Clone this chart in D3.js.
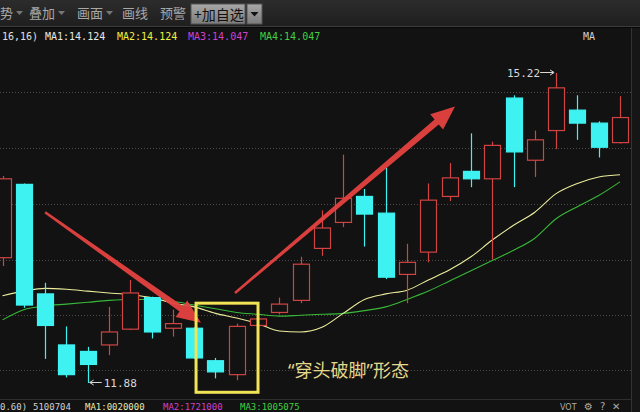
<!DOCTYPE html>
<html><head><meta charset="utf-8">
<script src="https://cdn.jsdelivr.net/npm/d3@7"></script>
<style>
html,body{margin:0;padding:0;background:#121212;overflow:hidden;}
svg{display:block;}
</style></head>
<body>
<svg id="c" width="640" height="412"></svg>
<script>
// ---- data ----
const opens  = [13.23,14.02,12.84,12.29,12.22,12.29,12.46,12.80,12.47,12.47,12.12,11.97,12.50,12.64,12.77,13.33,13.61,13.89,13.71,13.05,13.29,13.89,14.16,14.08,14.95,14.28,14.60,14.82,14.68,14.47];
const highs  = [14.11,14.03,12.96,12.49,12.27,12.70,12.99,12.81,12.67,12.48,12.15,12.52,12.59,12.80,13.24,13.74,14.34,13.97,14.20,13.38,14.03,14.25,14.57,14.48,14.98,14.60,15.22,14.98,14.70,14.97];
const lows   = [13.14,12.69,12.14,11.94,11.88,12.18,12.45,12.36,12.38,12.14,11.93,11.91,12.48,12.62,12.74,13.25,13.56,13.35,13.00,12.74,13.18,13.84,13.99,13.21,13.99,14.10,14.40,14.50,14.31,14.46];
const closes = [14.08,12.72,12.50,11.97,12.08,12.43,12.85,12.43,12.52,12.15,12.00,12.49,12.57,12.73,13.16,13.55,13.87,13.70,13.02,13.18,13.85,14.09,14.08,14.44,14.37,14.50,15.06,14.68,14.42,14.74];
const maYellow = [12.82,12.87,12.90,12.89,12.87,12.85,12.83,12.80,12.74,12.70,12.63,12.58,12.52,12.44,12.43,12.48,12.63,12.78,12.84,12.88,12.99,13.10,13.24,13.42,13.58,13.72,13.92,14.03,14.10,14.124];
const maGreen  = [12.56,12.67,12.71,12.73,12.75,12.77,12.78,12.78,12.76,12.72,12.68,12.64,12.62,12.60,12.61,12.62,12.63,12.66,12.70,12.78,12.87,12.98,13.09,13.20,13.31,13.44,13.65,13.78,13.90,14.047];
const gridPrices = [12.02,12.61,13.21,13.81,14.41,15.01];
const maLabels = [
  {t:"16,16)", c:"#e0e0e0"},
  {t:"MA1:14.124", c:"#e8e8e8"},
  {t:"MA2:14.124", c:"#f0f040"},
  {t:"MA3:14.047", c:"#d040d0"},
  {t:"MA4:14.047", c:"#40d040"}
];
const volLabels = [
  {t:"0.60)", c:"#d0d0d0"},
  {t:"5100704", c:"#d0d0d0"},
  {t:"MA1:0020000", c:"#e8e8b0"},
  {t:"MA2:1721000", c:"#d040d0"},
  {t:"MA3:1005075", c:"#40d040"}
];
const menuItems = ["势","叠加","画面","画线","预警"];
const menuArrows = [true,true,true,false,false];
const highLabel = "15.22";
const lowLabel = "11.88";
const patternText = "“穿头破脚”形态";
// annotations in data coordinates (candle index, price)
const arrowDown = {from:[2.0,13.72], to:[9.32,12.53]};
const arrowUp   = {from:[10.92,12.85], to:[21.25,14.86]};
const boxRange  = {i0:9.09, i1:12.0, p0:12.74, p1:11.78};

const svg = d3.select("#c");
const W = 640, H = 412;
const n = opens.length;
const x = d3.scaleLinear().domain([0, n-1]).range([2.5, 620]);
const y = d3.scaleLinear().domain([11.88, 15.22]).range([383, 73]);
const RED = "#d04444", CYAN = "#3ff2f2";

// backgrounds
svg.append("rect").attr("width",W).attr("height",H).attr("fill","#121212");
const tb = svg.append("defs").append("linearGradient").attr("id","tbg").attr("x1",0).attr("x2",0).attr("y1",0).attr("y2",1);
tb.append("stop").attr("offset","0").attr("stop-color","#2c2c2c");
tb.append("stop").attr("offset","1").attr("stop-color","#1f1f1f");
svg.append("rect").attr("width",W).attr("height",26).attr("fill","url(#tbg)");
svg.append("line").attr("x1",0).attr("x2",W).attr("y1",26.5).attr("y2",26.5).attr("stroke","#3c3c3c");
svg.append("line").attr("x1",0).attr("x2",W).attr("y1",27.5).attr("y2",27.5).attr("stroke","#080808");
svg.append("rect").attr("x",632).attr("y",28).attr("width",8).attr("height",H-28).attr("fill","#161616");
svg.append("line").attr("x1",631.5).attr("x2",631.5).attr("y1",28).attr("y2",H).attr("stroke","#333");

// toolbar menu
const menuX = [0, 29, 77, 122, 160];
const mg = svg.append("g").attr("font-family","'Noto Sans CJK SC'").attr("font-size",13).attr("fill","#a8a8a8");
menuItems.forEach((m,i)=>{
  mg.append("text").attr("x",menuX[i]).attr("y",18).text(m);
  if(menuArrows[i]){
    const ax = menuX[i] + m.length*13 + 3;
    mg.append("path").attr("d",`M${ax},11 L${ax+7},11 L${ax+3.5},15 Z`).attr("fill","#777");
  }
});
const bg = svg.append("defs").append("linearGradient").attr("id","btn").attr("x1",0).attr("x2",0).attr("y1",0).attr("y2",1);
bg.append("stop").attr("offset","0").attr("stop-color","#a8a8a8");
bg.append("stop").attr("offset","1").attr("stop-color","#7c7c7c");
svg.append("rect").attr("x",191).attr("y",4).attr("width",54).attr("height",20).attr("fill","url(#btn)").attr("stroke","#555");
svg.append("text").attr("x",194).attr("y",19.5).attr("font-family","'Noto Sans CJK SC'").attr("font-size",14).attr("fill","#111").text("+加自选");
svg.append("rect").attr("x",247).attr("y",4).attr("width",15).attr("height",20).attr("fill","url(#btn)").attr("stroke","#555");
svg.append("path").attr("d","M250.5,12 L258.5,12 L254.5,16.5 Z").attr("fill","#111");

// MA info row
const ig = svg.append("g").attr("font-family","'DejaVu Sans Mono'").attr("font-size",10);
const infoX = [2, 45, 117, 188, 260];
maLabels.forEach((d,i)=> ig.append("text").attr("x",infoX[i]).attr("y",40).attr("fill",d.c).text(d.t));
ig.append("text").attr("x",583).attr("y",40).attr("fill","#d0d0d0").text("MA");

// chart area clip
svg.append("defs").append("clipPath").attr("id","clip").append("rect").attr("x",0).attr("y",45).attr("width",631).attr("height",352);
const chart = svg.append("g").attr("clip-path","url(#clip)");

// grid
chart.selectAll("line.grid").data(gridPrices).join("line")
  .attr("x1",0).attr("x2",631).attr("y1",d=>Math.round(y(d))+0.5).attr("y2",d=>Math.round(y(d))+0.5)
  .attr("stroke","#4a4a4a").attr("stroke-dasharray","1,2");

// MA lines
const lineGen = d3.line().x((d,i)=>x(i)).y(d=>y(d)).curve(d3.curveMonotoneX);
chart.append("path").attr("d",lineGen(maGreen)).attr("fill","none").attr("stroke","#38b838").attr("stroke-width",1.1);
chart.append("path").attr("d",lineGen(maYellow)).attr("fill","none").attr("stroke","#ecec9c").attr("stroke-width",1.1);

// candles
const candles = d3.range(n).map(i=>({i,o:opens[i],h:highs[i],l:lows[i],c:closes[i]}));
const cg = chart.selectAll("g.candle").data(candles).join("g");
cg.append("line")
  .attr("x1",d=>Math.round(x(d.i))+0.5).attr("x2",d=>Math.round(x(d.i))+0.5)
  .attr("y1",d=>y(d.h)).attr("y2",d=>y(d.l))
  .attr("stroke",d=>d.c>=d.o?RED:CYAN).attr("stroke-width",1.2);
cg.append("rect")
  .attr("x",d=>Math.round(x(d.i))-8+0.5)
  .attr("y",d=>y(Math.max(d.o,d.c)))
  .attr("width",16)
  .attr("height",d=>Math.max(1,y(Math.min(d.o,d.c))-y(Math.max(d.o,d.c))))
  .attr("fill",d=>d.c>=d.o?"#121212":CYAN)
  .attr("stroke",d=>d.c>=d.o?RED:CYAN).attr("stroke-width",1.2);

// high / low labels
const hiIdx = highs.indexOf(d3.max(highs)), loIdx = lows.indexOf(d3.min(lows));
const lg = chart.append("g").attr("font-family","'DejaVu Sans Mono'").attr("font-size",11).attr("fill","#d8d8d8");
const hx = x(hiIdx), hy = y(highs[hiIdx]);
lg.append("text").attr("x",hx-16).attr("y",hy+4).attr("text-anchor","end").text(highLabel);
lg.append("path").attr("d",`M${hx-16},${hy-0.5} L${hx-3},${hy-0.5} M${hx-6},${hy-3} L${hx-2},${hy-0.5} L${hx-6},${hy+2}`).attr("stroke","#d8d8d8").attr("fill","none");
const lx = x(loIdx), ly = y(lows[loIdx]);
lg.append("path").attr("d",`M${lx+2},${ly-0.5} L${lx+14},${ly-0.5} M${lx+6},${ly-3} L${lx+2},${ly-0.5} L${lx+6},${ly+2}`).attr("stroke","#d8d8d8").attr("fill","none");
lg.append("text").attr("x",lx+16).attr("y",ly+4).text(lowLabel);

// arrows
function arrowPath(a){
  const x0=x(a.from[0]), y0=y(a.from[1]), x1=x(a.to[0]), y1=y(a.to[1]);
  const dx=x1-x0, dy=y1-y0, L=Math.hypot(dx,dy), ux=dx/L, uy=dy/L, px=-uy, py=ux;
  const hl=24, hw=10, tw=1.2, sw=3.2;
  const bx=x1-ux*hl, by=y1-uy*hl;
  const pts=[
    [x0+px*tw, y0+py*tw],
    [bx+px*sw, by+py*sw],
    [bx+px*hw, by+py*hw],
    [x1, y1],
    [bx-px*hw, by-py*hw],
    [bx-px*sw, by-py*sw],
    [x0-px*tw, y0-py*tw]
  ];
  return "M"+pts.map(p=>p[0].toFixed(1)+","+p[1].toFixed(1)).join("L")+"Z";
}
chart.append("path").attr("d",arrowPath(arrowDown)).attr("fill","#e54240").attr("opacity",0.95);
chart.append("path").attr("d",arrowPath(arrowUp)).attr("fill","#e54240").attr("opacity",0.95);

// yellow box
chart.append("rect")
  .attr("x",x(boxRange.i0)).attr("y",y(boxRange.p0))
  .attr("width",x(boxRange.i1)-x(boxRange.i0)).attr("height",y(boxRange.p1)-y(boxRange.p0))
  .attr("fill","none").attr("stroke","#f2e455").attr("stroke-width",3);

// pattern text
chart.append("text").attr("x",288).attr("y",377).attr("font-family","'Noto Sans','Noto Sans CJK SC'").attr("font-size",18)
  .attr("fill","#e4d88c").text(patternText);

// bottom volume row
svg.append("line").attr("x1",0).attr("x2",631).attr("y1",399.5).attr("y2",399.5).attr("stroke","#2e2e2e");
const vg = svg.append("g").attr("font-family","'DejaVu Sans Mono'").attr("font-size",9);
const volX = [0, 33, 85, 163, 240];
volLabels.forEach((d,i)=> vg.append("text").attr("x",volX[i]).attr("y",409.5).attr("fill",d.c).text(d.t));
const rg = svg.append("g").attr("font-family","'DejaVu Sans'").attr("fill","#aaa");
rg.append("text").attr("x",560).attr("y",409.5).attr("font-size",8).text("VOT");
rg.append("text").attr("x",584).attr("y",410).attr("font-size",10).text("⚙");
rg.append("text").attr("x",600).attr("y",410).attr("font-size",10).text("?");
rg.append("text").attr("x",612).attr("y",410).attr("font-size",10).text("✕");
</script>
</body></html>
